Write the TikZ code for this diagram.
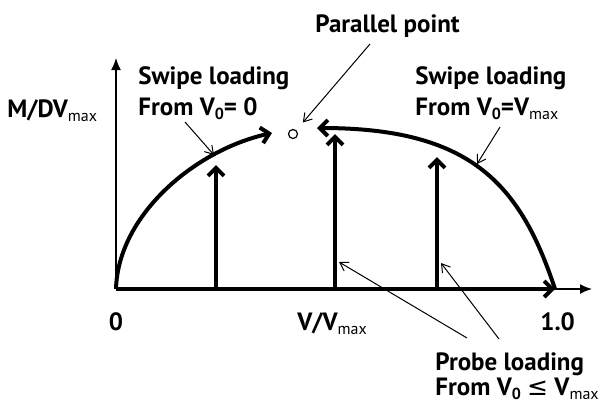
\documentclass[tikz,border=0pt]{standalone}
\usepackage{fontspec}
\setmainfont{PT Sans}
\newfontfamily\symfont{DejaVu Sans}
\usetikzlibrary{arrows.meta}
\newcommand{\lo}[1]{\raisebox{-0.35ex}{\fontsize{8}{8}\selectfont #1}}
\newcommand{\vmx}{V\lo{\mdseries max}}

\begin{document}
\begin{tikzpicture}[x=0.5pt, y=-0.5pt, font=\bfseries\fontsize{12.5}{15.5}\selectfont,
    axis/.style={line width=0.75pt, -{Latex[length=6pt, width=5pt]}},
    path arrow/.style={line width=2pt, -{Straight Barb[length=4pt, width=8pt]}},
    note/.style={line width=0.5pt, -{Straight Barb[length=4pt, width=5pt]}},
    lbl/.style={inner sep=0pt, align=left}]
    \useasboundingbox (0,0) rectangle (604,403);
    \coordinate (O) at (116,289);
    \coordinate (ytip) at (116,58);
    \coordinate (xtip) at (592,289);
    \coordinate (E) at (555,289);
    \draw[axis] (O) -- (ytip);
    \draw[axis] (O) -- (xtip);
    \draw[path arrow] (O) -- (E);

    \node[circle, draw, line width=0.6pt, inner sep=0pt, minimum size=4.5pt] (pp) at (293,134) {};
    \draw[path arrow] (O) .. controls (118,215) and (195,150) .. (272,133);
    \draw[path arrow] (E) .. controls (520,183) and (470,128) .. (317,128);
    \foreach \x/\h in {216/165, 335/134, 437/157}
      \draw[path arrow] (\x,289) -- (\x,\h);

    \node[lbl, anchor=base west] (ylab) at (7,117) {M/D\vmx};
    \node[lbl, anchor=base] (zero) at (116,330) {0};
    \node[lbl, anchor=base west] (xlab) at (297,330) {V/\vmx};
    \node[lbl, anchor=base west] (one) at (540,330) {1.0};
    \node[lbl, anchor=base west] (pplab) at (315,32) {Parallel point};
    \node[lbl, anchor=north west] (swl) at (138,66) {Swipe loading\\From V\lo{0}= 0};
    \node[lbl, anchor=north west] (swr) at (415,66) {Swipe loading\\From V\lo{0}=\vmx};
    \node[lbl, anchor=north west, font=\bfseries\fontsize{12.5}{12.5}\selectfont] (prb) at (435,352)
      {Probe loading\\From V\lo{0} {\symfont\mdseries ≤} \vmx};

    \coordinate (n1) at (370,44);
    \coordinate (n2) at (185,122);
    \coordinate (t2) at (214,155);
    \coordinate (n3) at (500,127);
    \coordinate (t3) at (477,164);
    \coordinate (n4) at (467,338);
    \coordinate (t4) at (339,262);
    \coordinate (n5) at (499,339);
    \coordinate (t5) at (441,263);
    \draw[note, shorten >=5pt] (n1) -- (pp);
    \draw[note] (n2) -- (t2);
    \draw[note] (n3) -- (t3);
    \draw[note] (n4) -- (t4);
    \draw[note] (n5) -- (t5);
\end{tikzpicture}
\end{document}
